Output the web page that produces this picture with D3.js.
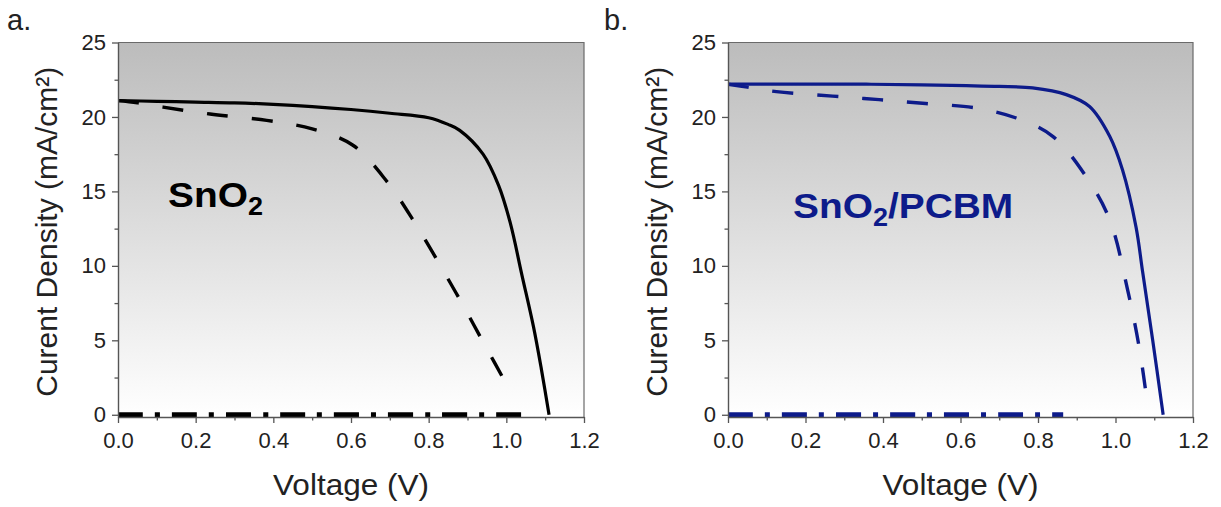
<!DOCTYPE html>
<html>
<head>
<meta charset="utf-8">
<script src="https://cdn.jsdelivr.net/npm/d3@7"></script>
<style>
  html, body { margin: 0; padding: 0; background: #fff; }
  svg { display: block; font-family: "Liberation Sans", Arial, sans-serif; }
</style>
</head>
<body>
<svg id="chart" width="1221" height="507"></svg>
<script>
// ---------------- data ----------------
const xTicks = [0.0, 0.2, 0.4, 0.6, 0.8, 1.0, 1.2];
const xMinorTicks = [0.1, 0.3, 0.5, 0.7, 0.9, 1.1];
const yTicks = [0, 5, 10, 15, 20, 25];
const yMinorTicks = [2.5, 7.5, 12.5, 17.5, 22.5];

const panelLetters = ["a.", "b."];
const panelLabels = ["SnO", "SnO"];
const panelLabelSuffix = ["", "/PCBM"];
const xTitle = "Voltage (V)";
const yTitle = "Curent Density (mA/cm\u00B2)";

// Panel a (SnO2) — black
const aSolidV = [0, 0.1, 0.2, 0.3, 0.4, 0.5, 0.6, 0.7, 0.8, 0.85, 0.88, 0.94, 0.98, 1.01, 1.04, 1.07, 1.09, 1.11];
const aSolidJ = [21.1, 21.05, 21.0, 20.95, 20.85, 20.7, 20.5, 20.25, 19.95, 19.5, 19.1, 17.5, 15.4, 12.9, 9.4, 5.9, 3.1, 0];
const aDashV = [0, 0.05, 0.116, 0.237, 0.383, 0.5, 0.605, 0.69, 0.76, 0.871, 0.94, 1.013];
const aDashJ = [21.1, 20.95, 20.66, 20.2, 19.77, 19.2, 18.1, 15.75, 13.07, 8.16, 4.9, 1.45];
const aDarkV = [0, 0.5, 1.04];
const aDarkJ = [0, 0, 0];

// Panel b (SnO2/PCBM) — navy
const bSolidV = [0, 0.2, 0.357, 0.5, 0.615, 0.7, 0.786, 0.873, 0.933, 0.985, 1.018, 1.053, 1.07, 1.096, 1.123];
const bSolidJ = [22.2, 22.2, 22.2, 22.15, 22.1, 22.05, 21.95, 21.5, 20.7, 18.7, 16.45, 12.6, 9.6, 5.0, 0];
const bDashV = [0, 0.05, 0.125, 0.27, 0.39, 0.51, 0.64, 0.744, 0.838, 0.924, 0.985, 1.032, 1.062, 1.085];
const bDashJ = [22.2, 22.0, 21.7, 21.4, 21.16, 20.9, 20.6, 19.93, 18.7, 16.0, 13.1, 8.3, 4.4, 0.2];
const bDarkV = [0, 0.5, 0.865];
const bDarkJ = [0, 0, 0];

// ---------------- drawing ----------------
const svg = d3.select("#chart");
const defs = svg.append("defs");
const grad = defs.append("linearGradient")
  .attr("id", "bg").attr("x1", 0).attr("y1", 0).attr("x2", 0).attr("y2", 1);
grad.append("stop").attr("offset", "0%").attr("stop-color", "#bcbcbc");
grad.append("stop").attr("offset", "100%").attr("stop-color", "#ffffff");

const panels = [
  { left: 118, right: 584, top: 42.5, bottom: 417, color: "#000000",
    letterX: 7, yTitleX: 57, labelX: 168, labelY: 207,
    series: [[aSolidV, aSolidJ, "solid"], [aDashV, aDashJ, "dash"], [aDarkV, aDarkJ, "dashdot"]] },
  { left: 728, right: 1193, top: 42.5, bottom: 417, color: "#0d1b8a",
    letterX: 604, yTitleX: 667, labelX: 793, labelY: 218,
    series: [[bSolidV, bSolidJ, "solid"], [bDashV, bDashJ, "dash"], [bDarkV, bDarkJ, "dashdot"]] }
];

panels.forEach((p, i) => {
  const x = d3.scaleLinear().domain([0, 1.2]).range([p.left, p.right]);
  const y = d3.scaleLinear().domain([-0.15, 25]).range([p.bottom, p.top]);
  const g = svg.append("g");

  g.append("rect")
    .attr("x", p.left).attr("y", p.top)
    .attr("width", p.right - p.left).attr("height", p.bottom - p.top)
    .attr("fill", "url(#bg)");

  const clipId = "clip" + i;
  defs.append("clipPath").attr("id", clipId).append("rect")
    .attr("x", p.left).attr("y", p.top)
    .attr("width", p.right - p.left).attr("height", p.bottom - p.top);

  // frame (top/right)
  g.append("path")
    .attr("d", `M${p.left},${p.top}H${p.right}V${p.bottom}`)
    .attr("fill", "none").attr("stroke", "#6a6a6a").attr("stroke-width", 1.2);

  // curves
  const lines = g.append("g").attr("clip-path", `url(#${clipId})`);
  p.series.forEach(([vs, js, style]) => {
    const pts = vs.map((v, k) => [v, js[k]]);
    const line = d3.line().x(d => x(d[0])).y(d => y(d[1])).curve(d3.curveCatmullRom.alpha(0.5));
    const path = lines.append("path")
      .attr("d", line(pts))
      .attr("fill", "none")
      .attr("stroke", p.color)
      .attr("stroke-linejoin", "round");
    if (style === "solid") path.attr("stroke-width", 3.2);
    if (style === "dash") path.attr("stroke-width", 3.4).attr("stroke-dasharray", "21,24");
    if (style === "dashdot") path.attr("stroke-width", 4.8).attr("stroke-dasharray", "25,12,5,12");
  });

  // axes
  g.append("g").attr("transform", `translate(0,${p.bottom})`)
    .call(d3.axisBottom(x).tickValues(xTicks).tickFormat(d3.format(".1f"))
      .tickSize(6).tickSizeOuter(0).tickPadding(9));
  g.append("g").attr("transform", `translate(0,${p.bottom})`)
    .call(d3.axisBottom(x).tickValues(xMinorTicks).tickFormat("").tickSize(3.5).tickSizeOuter(0))
    .select(".domain").remove();
  g.append("g").attr("transform", `translate(${p.left},0)`)
    .call(d3.axisLeft(y).tickValues(yTicks).tickSize(6).tickSizeOuter(0).tickPadding(6));
  g.append("g").attr("transform", `translate(${p.left},0)`)
    .call(d3.axisLeft(y).tickValues(yMinorTicks).tickFormat("").tickSize(3.5).tickSizeOuter(0))
    .select(".domain").remove();

  g.selectAll(".domain").attr("stroke", "#555").attr("stroke-width", 1.4);
  g.selectAll(".tick line").attr("stroke", "#555").attr("stroke-width", 1.3);
  g.selectAll(".tick text").attr("font-size", 22).attr("fill", "#222")
    .attr("font-family", "'Liberation Sans', Arial, sans-serif");

  // titles
  g.append("text")
    .attr("transform", `translate(${(p.left + p.right) / 2},495) scale(1.05,1)`)
    .attr("text-anchor", "middle").attr("font-size", 30).attr("fill", "#222")
    .text(xTitle);
  g.append("text")
    .attr("transform", `translate(${p.yTitleX},${(p.top + p.bottom) / 2 + 2}) rotate(-90)`)
    .attr("text-anchor", "middle").attr("font-size", 30).attr("fill", "#222")
    .text(yTitle);

  // panel letter
  g.append("text").attr("x", p.letterX).attr("y", 30)
    .attr("font-size", 29).attr("fill", "#222").text(panelLetters[i]);

  // annotation
  const t = g.append("text")
    .attr("transform", `translate(${p.labelX},${p.labelY}) scale(1.08,1)`)
    .attr("font-size", 36).attr("font-weight", "bold").attr("fill", p.color);
  t.append("tspan").text(panelLabels[i]);
  t.append("tspan").attr("font-size", 25).attr("dy", 8).text("2");
  if (panelLabelSuffix[i]) t.append("tspan").attr("dy", -8).text(panelLabelSuffix[i]);
});
</script>
</body>
</html>
